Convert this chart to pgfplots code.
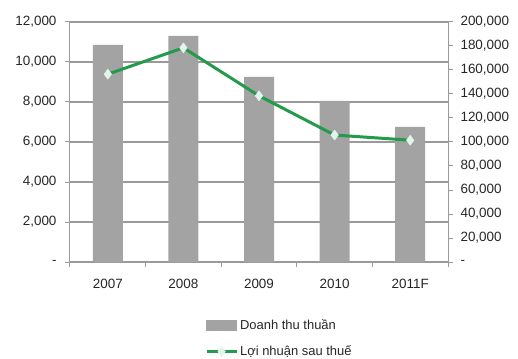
\documentclass[border=0pt]{standalone}
\usepackage{pgfplots}
\pgfplotsset{compat=1.18}
\usepackage{fontspec}
\setmainfont{Liberation Sans}
\definecolor{barcol}{HTML}{A3A3A3}
\definecolor{gridcol}{HTML}{9A9A9A}
\definecolor{linecol}{HTML}{239A4C}
\definecolor{markfill}{HTML}{E2F5EA}
\pgfplotsset{mylinelegend/.style={legend image code/.code={\draw[mark repeat=2,mark phase=2,##1] plot coordinates {(0bp,0bp) (15bp,0bp) (30bp,0bp)};}}}
\pgfplotstableread{
x rev
0 10850
1 11300
2 9250
3 8050
4 6750
}\revtable
\pgfplotstableread{
x np
0 156500
1 178500
2 138500
3 105800
4 101500
}\nptable
\begin{document}
\begin{tikzpicture}
\path[use as bounding box] (-70bp,-97bp) rectangle (448bp,262bp);
\begin{axis}[
  scale only axis, width=378bp, height=240bp,
  xmin=-0.5, xmax=4.5, ymin=0, ymax=12000,
  scaled y ticks=false,
  axis x line*=bottom, axis y line*=left,
  axis line style={gridcol, line width=1bp},
  xtick={0,1,2,3,4},
  xticklabels={2007,2008,2009,2010,2011F},
  minor xtick={-0.5,0.5,1.5,2.5,3.5,4.5},
  major x tick style={draw=none},
  minor x tick style={gridcol, line width=1bp},
  minor tick length=5bp,
  ytick={0,2000,4000,6000,8000,10000,12000},
  yticklabels={-,{2,000},{4,000},{6,000},{8,000},{10,000},{12,000}},
  major y tick style={gridcol, line width=1bp},
  major tick length=5bp,
  tick align=outside,
  ymajorgrids, grid style={gridcol, line width=1.2bp},
  ticklabel style={font=\fontsize{13.5}{16}\selectfont, text=black!85},
  xticklabel style={yshift=-9bp},
  yticklabel style={xshift=-5bp},
  /pgf/number format/assume math mode=true,
]
\addplot[ybar, bar width=30bp, fill=barcol, draw=none] table[x=x,y=rev] {\revtable};
\end{axis}
\begin{axis}[
  scale only axis, width=378bp, height=240bp,
  xmin=-0.5, xmax=4.5, ymin=0, ymax=200000,
  scaled y ticks=false,
  axis x line=none, axis y line*=right,
  axis line style={gridcol, line width=1bp},
  ytick={0,20000,40000,60000,80000,100000,120000,140000,160000,180000,200000},
  yticklabels={-,{20,000},{40,000},{60,000},{80,000},{100,000},{120,000},{140,000},{160,000},{180,000},{200,000}},
  major y tick style={gridcol, line width=1bp},
  major tick length=5bp,
  tick align=outside,
  ticklabel style={font=\fontsize{13.5}{16}\selectfont, text=black!85},
  yticklabel style={xshift=4bp},
  /pgf/number format/assume math mode=true,
  legend style={draw=none, fill=none, inner sep=0pt, at={(axis description cs:0.357,-0.23)}, anchor=north west,
    font=\fontsize{13}{16}\selectfont, row sep=11bp, text=black!85},
  legend cell align=left,
]
\addlegendimage{legend image code/.code={\fill[barcol] (0bp,-5bp) rectangle (30bp,5bp);}}
\addlegendentry{Doanh thu thuần}
\addplot[linecol, line width=3bp, mark=diamond*, mark size=5bp,
  mark options={fill=markfill, draw=markfill, line width=0.5bp}, mylinelegend]
  table[x=x,y=np] {\nptable};
\addlegendentry{Lợi nhuận sau thuế}
\end{axis}
\end{tikzpicture}
\end{document}
